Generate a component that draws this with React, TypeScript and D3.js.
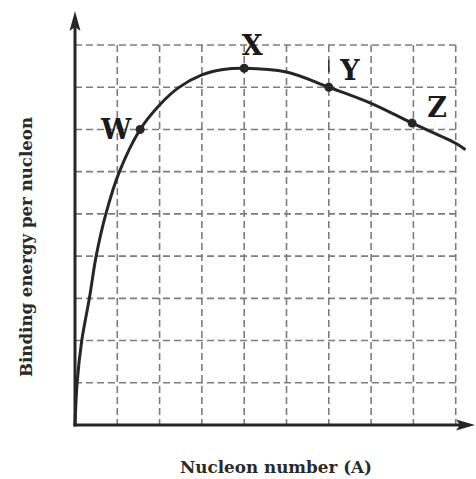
import React from "react";
import * as d3 from "d3";

// Binding energy per nucleon curve (grid units, 9 x 9 cells)
const curveA = [0, 0.05, 0.16, 0.34, 0.5, 0.73, 1.05, 1.54, 2.0, 2.45, 3.0, 3.5, 4.0, 5.0, 6.0, 7.0, 7.97, 8.99, 9.23];
const curveE = [0, 1.0, 2.0, 3.0, 4.0, 5.0, 6.0, 7.0, 7.58, 7.99, 8.29, 8.42, 8.45, 8.36, 8.0, 7.62, 7.15, 6.68, 6.52];

// Labelled nuclei on the curve
const pointNames = ["W", "X", "Y", "Z"];
const pointA = [1.54, 4.0, 6.0, 7.97];
const pointE = [7.0, 8.45, 8.0, 7.15];

const gridTicks = [1, 2, 3, 4, 5, 6, 7, 8, 9];

const xTitle = "Nucleon number (A)";
const yTitle = "Binding energy per nucleon";

const W = 476;
const H = 479;

export default function App() {
  const x = d3.scaleLinear().domain([0, 9]).range([75, 455.7]);
  const y = d3.scaleLinear().domain([0, 9]).range([425, 45]);

  const line = d3
    .line<number>()
    .x((_, i) => x(curveA[i]))
    .y((_, i) => y(curveE[i]))
    .curve(d3.curveCatmullRom.alpha(0.5));

  const ink = "#262626";
  const gridColor = "#7d7d7d";
  const serif = "'DejaVu Serif', 'Liberation Serif', serif";

  // label offsets relative to each point
  const labelDx = [-24, 8, 21, 25];
  const labelDy = [10, -13, -7, -6];

  return (
    <svg
      width={W}
      height={H}
      viewBox={`0 0 ${W} ${H}`}
      style={{ position: "absolute", left: 0, top: 0, background: "#fff" }}
    >
      {/* dashed grid */}
      <g stroke={gridColor} strokeWidth={1.6} strokeDasharray="7 4" fill="none">
        {gridTicks.map((t) => (
          <line key={`v${t}`} x1={x(t)} x2={x(t)} y1={y(9)} y2={y(0)} />
        ))}
        {gridTicks.map((t) => (
          <line key={`h${t}`} x1={x(0)} x2={x(9)} y1={y(t)} y2={y(t)} />
        ))}
      </g>

      {/* axes with arrowheads */}
      <g stroke={ink} strokeWidth={3} fill="none" strokeLinecap="square">
        <line x1={x(0)} x2={x(0)} y1={y(0)} y2={24} />
        <line x1={x(0)} x2={462} y1={y(0)} y2={y(0)} />
      </g>
      <path
        d={`M${x(0)},11 L${x(0) + 5.5},31 L${x(0)},27 L${x(0) - 5.5},31 Z`}
        fill={ink}
      />
      <path
        d={`M475,${y(0)} L456,${y(0) - 5.5} L460,${y(0)} L456,${y(0) + 5.5} Z`}
        fill={ink}
      />

      {/* binding energy curve */}
      <path d={line(curveA) || ""} fill="none" stroke={ink} strokeWidth={3} />

      {/* short marker stroke above Y */}
      <line
        x1={x(pointA[2])}
        x2={x(pointA[2])}
        y1={y(pointE[2]) - 27}
        y2={y(pointE[2]) - 15}
        stroke="#333"
        strokeWidth={1.6}
      />

      {/* marked nuclei */}
      {pointNames.map((n, i) => (
        <g key={n}>
          <circle cx={x(pointA[i])} cy={y(pointE[i])} r={4.5} fill={ink} />
          <text
            x={x(pointA[i]) + labelDx[i]}
            y={y(pointE[i]) + labelDy[i]}
            textAnchor="middle"
            fontFamily={serif}
            fontWeight="bold"
            fontSize={27}
            fill="#1a1a1a"
          >
            {n}
          </text>
        </g>
      ))}

      {/* axis titles */}
      <text
        x={276}
        y={473}
        textAnchor="middle"
        fontFamily={serif}
        fontWeight="bold"
        fontSize={16}
        fill="#2a2a2a"
        textLength={192}
        lengthAdjust="spacingAndGlyphs"
      >
        {xTitle}
      </text>
      <text
        transform="translate(32,247) rotate(-90)"
        textAnchor="middle"
        fontFamily={serif}
        fontWeight="bold"
        fontSize={16}
        fill="#2a2a2a"
        textLength={260}
        lengthAdjust="spacingAndGlyphs"
      >
        {yTitle}
      </text>
    </svg>
  );
}
